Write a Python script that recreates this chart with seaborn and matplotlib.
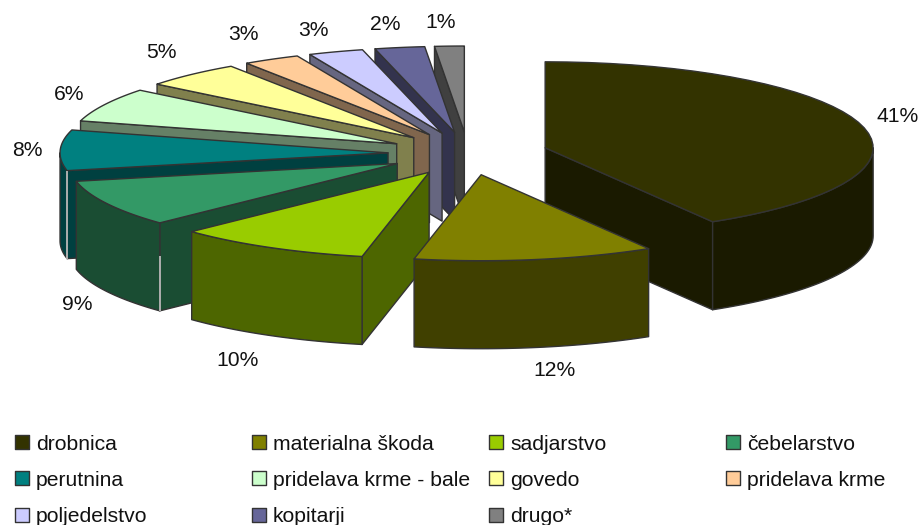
import numpy as np
import pandas as pd
import matplotlib.pyplot as plt
import seaborn as sns

# data
categories = ['drobnica', 'materialna škoda', 'sadjarstvo', 'čebelarstvo',
              'perutnina', 'pridelava krme - bale', 'govedo', 'pridelava krme',
              'poljedelstvo', 'kopitarji', 'drugo*']
shares = [41.45, 11.8, 9.6, 8.8, 7.6, 6.4, 4.9, 2.8, 2.7, 2.45, 1.45]
colors = ['#333300', '#808000', '#99CC00', '#339966', '#008080', '#CCFFCC',
          '#FFFF99', '#FFCC99', '#CCCCFF', '#666699', '#808080']

# layout of the label texts and of the legend, in pixels
label_pos = [(898, 116), (554, 371), (238, 361), (77, 305), (27, 150), (69, 94),
             (161, 53), (243, 34), (313, 30), (385, 24), (441, 23)]
legend_cols = [22, 259, 496, 733]
legend_rows = [442, 478, 515]

# pie geometry
cx, cy = 468, 153.5
rx, ry = 328, 86
ex, ey = 80, 21.5
depth = 88
edge = '#333333'

# pale seams on two wall corners: slice index -> where the seam starts down the wall
seams = {3: 0.38, 4: 0.0}

sns.set_theme(style='white')
plt.rcParams['font.family'] = ['Liberation Sans', 'DejaVu Sans']
palette = sns.color_palette(colors)

fig = plt.figure(figsize=(9.21, 5.25), dpi=100)
ax = fig.add_axes([0, 0, 1, 1])
ax.set_xlim(0, 921)
ax.set_ylim(525, 0)
ax.axis('off')

shares = np.array(shares)
pct = shares / shares.sum() * 100
ends = np.cumsum(pct) * 3.6
starts = ends - pct * 3.6
mids = (starts + ends) / 2


def rim(ax0, ay0, t0, t1):
    t = np.radians(np.linspace(t0, t1, 40))
    return ax0 + rx * np.sin(t), ay0 - ry * np.cos(t)


def face(xs, ys, col):
    ax.fill(xs, ys, facecolor=col, edgecolor=edge, linewidth=1.0, joinstyle='round')


# back slices first
order = sorted(range(len(pct)), key=lambda i: -np.cos(np.radians(mids[i])))
for i in order:
    px = cx + ex * np.sin(np.radians(mids[i]))
    py = cy - ey * np.cos(np.radians(mids[i]))
    top = palette[i]
    wall = tuple(c * 0.5 for c in top)
    t0, t1 = starts[i], ends[i]

    # cut face turned to the viewer
    cut = t0 if t0 >= 180 else (t1 if t1 <= 180 else None)
    if cut is not None:
        ex_, ey_ = rim(px, py, cut, cut)
        face([px, ex_[0], ex_[0], px], [py, ey_[0], ey_[0] + depth, py + depth], wall)

    # outer wall on the front half
    a, b = max(t0, 90), min(t1, 270)
    if a < b:
        wx, wy = rim(px, py, a, b)
        face(np.r_[wx, wx[::-1]], np.r_[wy, wy[::-1] + depth], wall)

    if i in seams:
        sx, sy = rim(px, py, t0, t0)
        ax.plot([sx[0], sx[0]], [sy[0] + seams[i] * depth, sy[0] + depth],
                color='#c4c4c4', linewidth=1.2, solid_capstyle='butt')

    # top
    tx, ty = rim(px, py, t0, t1)
    face(np.r_[px, tx], np.r_[py, ty], top)

for p, (lx, ly) in zip(pct, label_pos):
    ax.text(lx, ly, f'{p:.0f}%', ha='center', va='center', fontsize=15.2, color='#111111')

# legend
keys = pd.DataFrame({
    'x': [legend_cols[i % 4] for i in range(len(categories))],
    'y': [legend_rows[i // 4] for i in range(len(categories))],
    'name': categories,
})
sns.scatterplot(data=keys, x='x', y='y', hue='name', palette=palette, marker='s', s=90,
                edgecolor=edge, linewidth=1.0, legend=False, ax=ax, clip_on=False)
ax.set_xlim(0, 921)
ax.set_ylim(525, 0)
for _, row in keys.iterrows():
    ax.text(row['x'] + 14, row['y'], row['name'], ha='left', va='center_baseline',
            fontsize=15.2, color='#111111')

fig.savefig('out.png', dpi=100)
